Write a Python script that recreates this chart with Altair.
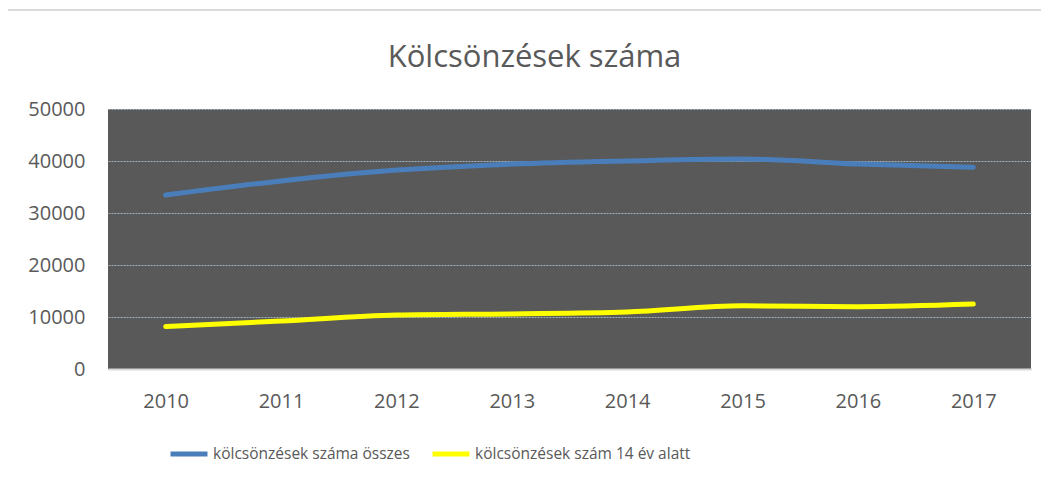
import altair as alt
import pandas as pd

years = ["2010", "2011", "2012", "2013", "2014", "2015", "2016", "2017"]
total = [33450, 36150, 38250, 39400, 40000, 40380, 39420, 38800]
under14 = [8150, 9230, 10380, 10600, 10950, 12150, 11980, 12480]
series_names = ["kölcsönzések száma összes", "kölcsönzések szám 14 év alatt"]
colors = ["#4A7EBB", "#FFFF00"]

rows = []
for y, a, b in zip(years, total, under14):
    rows.append({"year": y, "series": series_names[0], "value": a})
    rows.append({"year": y, "series": series_names[1], "value": b})
df = pd.DataFrame(rows)

FONT = "Open Sans"
FS = 20

lines = alt.Chart(df).mark_line(strokeWidth=5, interpolate="monotone", strokeCap="round").encode(
    x=alt.X("year:N", title=None, sort=years,
            scale=alt.Scale(paddingOuter=0.5, paddingInner=1),
            axis=alt.Axis(labelAngle=0, domainColor="#D9D9D9", domainWidth=2, ticks=False,
                          labelPadding=22, labelFontSize=FS, labelColor="#595959", labelFont=FONT, grid=False)),
    y=alt.Y("value:Q", title=None, scale=alt.Scale(domain=[0, 50000]),
            axis=alt.Axis(values=[0, 10000, 20000, 30000, 40000, 50000], format="d", domain=False, ticks=False,
                          labelPadding=23, labelFontSize=FS, labelColor="#595959", labelFont=FONT,
                          gridColor="#9FB3BF", gridDash=[2, 1], gridWidth=1.2)),
    color=alt.Color("series:N", sort=series_names,
                    scale=alt.Scale(domain=series_names, range=colors),
                    legend=alt.Legend(title=None, orient="none", direction="horizontal",
                                      legendX=60, legendY=324, symbolType="stroke",
                                      symbolSize=1369, symbolStrokeWidth=5, labelOffset=3,
                                      columnPadding=12, labelFontSize=15.5, labelColor="#595959",
                                      labelFont=FONT, labelLimit=400)),
)

frame_top = alt.Chart(pd.DataFrame({"k": [0]})).mark_rule(color="#D9D9D9", strokeWidth=2).encode(
    x=alt.value(-104), x2=alt.value(960), y=alt.value(-99))
frame_left = alt.Chart(pd.DataFrame({"k": [0]})).mark_rule(color="#D9D9D9", strokeWidth=2).encode(
    x=alt.value(-104), y=alt.value(-99), y2=alt.value(400))

chart = alt.layer(frame_top, frame_left, lines).properties(
    width=923, height=260,
    title=alt.TitleParams("Kölcsönzések száma", fontSize=31, font=FONT, fontWeight="normal",
                          color="#595959", anchor="middle", offset=-65, dx=-35),
    autosize=alt.AutoSizeParams(type="none"),
    padding={"left": 100, "top": 101, "right": 10, "bottom": 115},
    background="white",
).configure_view(fill="#595959", stroke=None)

chart.save("out.html", embed_options={"renderer": "svg", "actions": False})
